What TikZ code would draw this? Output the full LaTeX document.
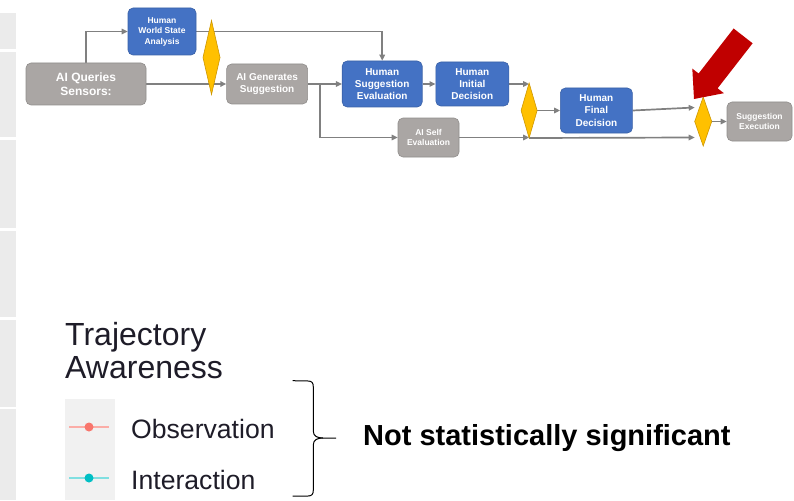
\documentclass[tikz,border=0pt]{standalone}
\usepackage{fontspec}
\setmainfont{Liberation Sans}
\usetikzlibrary{shapes.geometric, arrows.meta, positioning, backgrounds}
\definecolor{aigray}{RGB}{170,166,164}
\definecolor{humanblue}{RGB}{68,114,196}
\definecolor{gateyellow}{RGB}{255,192,0}
\definecolor{gateedge}{RGB}{205,150,0}
\definecolor{flowgray}{RGB}{128,128,128}
\definecolor{calloutred}{RGB}{192,0,0}
\definecolor{panelgray}{RGB}{235,235,235}
\definecolor{obsred}{RGB}{248,118,109}
\definecolor{intteal}{RGB}{0,191,196}
\definecolor{legendink}{RGB}{30,28,40}
\tikzset{
    aibox/.style={rectangle, draw=aigray!85!black, fill=aigray, rounded corners=5pt, align=center, text=white, inner sep=0pt, line width=0.6pt},
    humanbox/.style={rectangle, draw=humanblue!85!black, fill=humanblue, rounded corners=5pt, align=center, text=white, inner sep=0pt, line width=0.6pt},
    gate/.style={diamond, draw=gateedge, fill=gateyellow, inner sep=0pt, outer sep=0pt, line width=0.6pt},
    arrow/.style={-{Triangle[length=6pt, width=5.5pt]}, line width=1.7pt, draw=flowgray},
    bigtext/.style={font=\fontsize{12}{14}\selectfont\bfseries},
    midtext/.style={font=\fontsize{10}{12.3}\selectfont\bfseries},
    smalltext/.style={font=\fontsize{8.5}{10.7}\selectfont\bfseries},
    keyline/.style={line width=2.5pt},
    legend/.style={anchor=base west, inner sep=0pt, text=legendink},
}

\begin{document}
\begin{tikzpicture}[x=1pt, y=-1pt]
    \useasboundingbox (0,0) rectangle (794,500);
    % side panel strip
    \foreach \top/\bot in {13/49, 52/137, 140/228, 231/317, 320/407, 409/500}
        \fill[panelgray] (0,\top) rectangle (16,\bot);

    % main row
    \node[aibox, bigtext, minimum width=120pt, minimum height=42pt] (sens) at (86,84) {AI Queries\\Sensors:};
    \node[humanbox, font=\fontsize{8.5}{10.5}\selectfont\bfseries, minimum width=68pt, minimum height=47pt] (wsa) at (162,31.5) {Human\\World State\\Analysis};
    \node[gate, minimum width=17pt, minimum height=74pt] (g1) at (211.5,57.5) {};
    \node[aibox, midtext, minimum width=81pt, minimum height=40pt, right=80pt of sens] (gen) {AI Generates\\Suggestion};
    \node[humanbox, midtext, minimum width=80pt, minimum height=46pt, right=34pt of gen] (hse) {Human\\Suggestion\\Evaluation};
    \node[humanbox, midtext, minimum width=73pt, minimum height=44pt, right=13pt of hse] (hid) {Human\\Initial\\Decision};
    \node[gate, minimum width=16pt, minimum height=55pt, right=12pt of hid, yshift=-26.5pt] (g2) {};
    \node[humanbox, midtext, minimum width=72pt, minimum height=45pt, right=23pt of g2] (hfd) {Human\\Final\\Decision};
    \node[gate, minimum width=17pt, minimum height=49pt, right=62pt of hfd, yshift=-11pt] (g3) {};
    \node[aibox, smalltext, minimum width=65pt, minimum height=39pt, right=15pt of g3] (exe) {Suggestion\\Execution};

    % self check branch
    \node[aibox, smalltext, minimum width=61pt, minimum height=39pt] (self) at (428.5,137.5) {AI Self\\Evaluation};
    \coordinate[right=12pt of gen.east] (split);

    % connectors
    \begin{scope}[on background layer]
        \draw[arrow] (sens.north) |- (wsa.west);
        \draw[arrow] (wsa.east) -| (hse.north);
        \draw[arrow] (sens.east) -- (gen.west);
        \draw[arrow] (gen.east) -- (hse.west);
        \draw[arrow] (split) |- (self.west);
        \draw[arrow] (hse.east) -- (hid.west);
        \draw[arrow] (hid.east) -- (hid.east -| g2.north);
        \draw[arrow] (self.east) -- (self.east -| g2.south);
        \draw[arrow] (g2.east) -- (hfd.west);
        \draw[arrow] (hfd.east) -- ([yshift=14pt]g3.west);
        \draw[arrow] (g2.south) -- ([yshift=-16pt]g3.west);
        \draw[arrow] (g3.east) -- (exe.west);
    \end{scope}

    % red pointer
    \fill[calloutred] (694,99) -- (723.9,93.2) -- (717.6,88.3) -- (752.6,43.3) -- (733.6,28.5) -- (698.6,73.5) -- (692.3,68.6) -- cycle;

    % legend
    \node[legend, font=\fontsize{32}{33}\selectfont] (title1) at (65,345) {Trajectory};
    \node[legend, font=\fontsize{32}{33}\selectfont] (title2) at (65,378) {Awareness};
    \fill[panelgray!70!white] (65,399) rectangle (115,500);
    \draw[keyline, obsred!60!white] (69,427) -- (109,427);
    \fill[obsred] (89,427) circle (4.5pt);
    \draw[keyline, intteal!50!white] (69,478) -- (109,478);
    \fill[intteal] (89,478) circle (4.5pt);
    \node[legend, font=\fontsize{26.6}{30}\selectfont] (obs) at (131,438.5) {Observation};
    \node[legend, font=\fontsize{26.6}{30}\selectfont] (inter) at (131,489) {Interaction};

    % brace and note
    \draw[line width=1pt] (292.7,380.7) -- (308,381) .. controls (312,381) and (313.3,383) .. (313.3,387)
        -- (313.3,431) .. controls (313.3,436) and (317,438) .. (323,438) -- (336,438);
    \draw[line width=1pt] (323,438) .. controls (317,438) and (313.3,440) .. (313.3,445)
        -- (313.3,490) .. controls (313.3,494) and (312,496) .. (308,496) -- (292.7,496);
    \node[anchor=base west, inner sep=0pt, font=\fontsize{29}{32}\selectfont\bfseries] (note) at (363,445) {Not statistically significant};
\end{tikzpicture}
\end{document}
